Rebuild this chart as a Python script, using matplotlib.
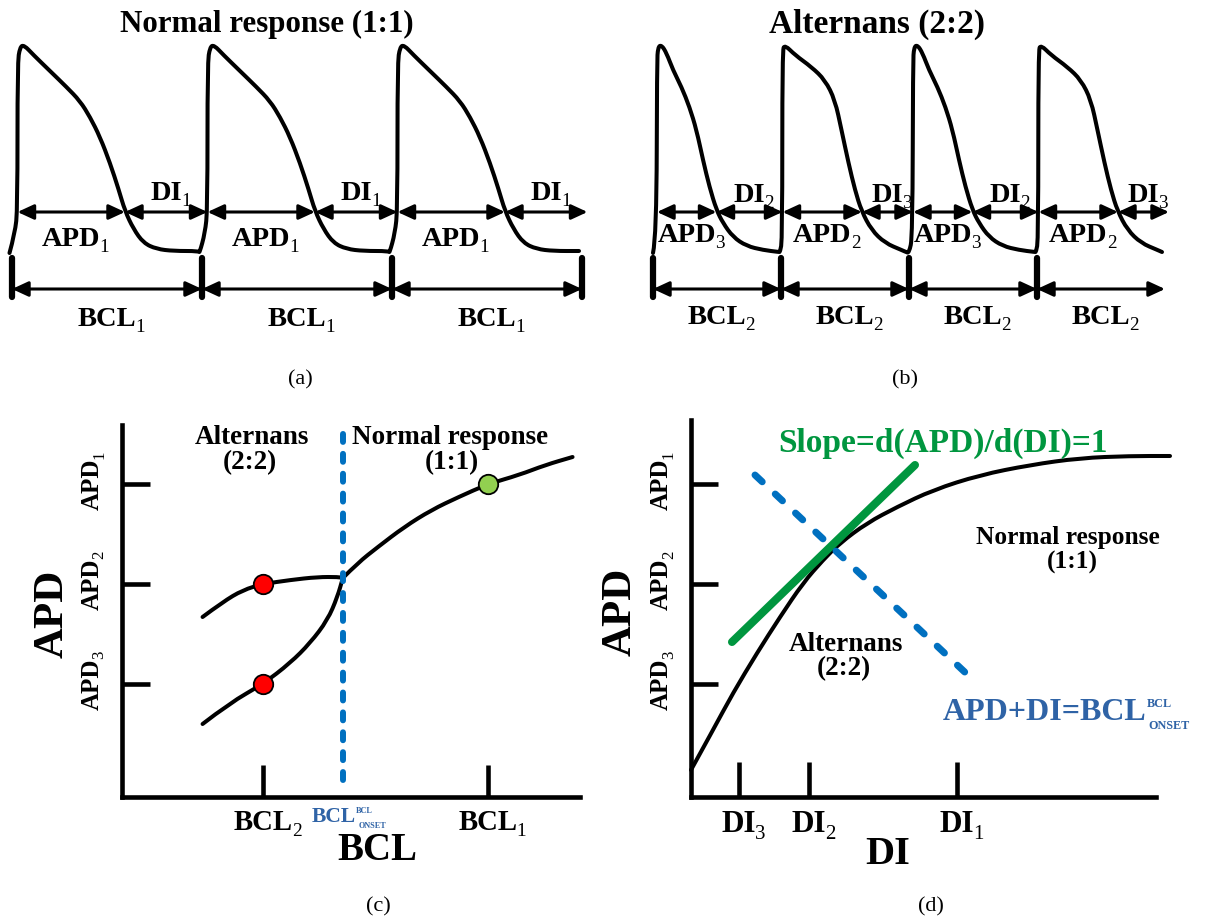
import matplotlib
matplotlib.use('Agg')
import matplotlib.pyplot as plt
import matplotlib.transforms as mtransforms
from matplotlib.path import Path
from matplotlib.patches import PathPatch

W, H = 1207, 922
plt.rcParams['font.family'] = 'Liberation Serif'

# ---------------- data ----------------
# (a) one normal action potential: time after stimulus (ms), membrane potential (mV)
ap_normal_t = [-5, 6, 11, 11, 16, 24, 43, 76, 109, 136, 156, 176, 196, 213, 226, 243, 263, 289, 323, 374]
ap_normal_v = [-84, -74, -62, 11, 19, 20, 15, 7, -1, -8, -16, -26, -39, -52, -63, -72, -79, -82, -83, -83]
stim_a = [0, 380, 760, 1140]
upstroke_a = [11, 391, 771, 1151]
apd_a = [215, 215, 215]
apd_sub_a = ['1', '1', '1']
di_sub_a = ['1', '1', '1']
bcl_sub_a = ['1', '1', '1']

# (b) alternans: short (APD3) and long (APD2) action potentials
ap_short_t = [0, 7, 8, 10, 17, 27, 40, 57, 73, 87, 100, 113, 127, 140, 160, 187, 220, 252]
ap_short_v = [-84, -76, 11, 19, 20, 16, 7.5, -1, -11, -22.5, -37.5, -51, -62.5, -69, -76, -80.5, -82.5, -83.5]
ap_long_t = [-2, 2.6, 2.6, 8, 28, 61, 88, 108, 121, 135, 148, 161, 181, 208, 241, 250]
ap_long_v = [-83.5, -77.5, 17.5, 20, 15, 9, 2.5, -7.5, -22.5, -39, -52.5, -63, -72.5, -79, -82.5, -83.5]
stim_b = [0, 256, 512, 768, 1024]
beat_kind_b = ['short', 'long', 'short', 'long']
upstroke_b = [8, 259, 520, 771, 1032]
apd_b = [119, 159, 119, 159]
apd_sub_b = ['3', '2', '3', '2']
di_sub_b = ['2', '3', '2', '3']
bcl_sub_b = ['2', '2', '2', '2']

# (c) APD vs BCL bifurcation
upper_bcl = [222.7, 233.8, 244.9, 256, 271, 286, 297.7, 300]
upper_apd = [153.5, 161, 167, 170, 172, 173.5, 173.5, 173]
lower_bcl = [222.7, 237.7, 256, 271, 282, 291.6, 297, 300]
lower_apd = [100, 110.5, 120, 130.5, 140.5, 152, 163.5, 173]
normal_bcl = [300, 308.2, 319.3, 333.8, 348.8, 363.8, 380, 397.1, 411.6, 426.6]
normal_apd = [173, 180.5, 188.5, 198.5, 207, 213.5, 220, 224.5, 229.5, 233.5]
bcl_ticks = [256, 380]
bcl_tick_sub = ['2', '1']
bcl_onset = 300
apd_ticks = [220, 170, 120]
apd_tick_sub = ['1', '2', '3']
alt_dots_bcl = [256, 256]
alt_dots_apd = [170, 120]
normal_dot_bcl = [380]
normal_dot_apd = [220]

# (d) restitution curve APD vs DI
rest_di = [0, 11, 21, 33, 44.5, 56, 66, 74.5, 88, 103, 121, 144.5, 169.5, 194.5, 219.5, 239.5]
rest_apd = [77, 97, 115.5, 135.5, 153.5, 170.5, 182, 190.5, 200.5, 208.5, 217, 224.5, 229.5, 233, 234, 234]
slope_di = [20.5, 112]
slope_apd = [141, 229.5]
onset_line_di = [32, 139.5]
onset_line_apd = [224.5, 123.5]
di_ticks = [24, 59, 133]
di_tick_sub = ['3', '2', '1']

# ---------------- layout ----------------
fig = plt.figure(figsize=(W / 100, H / 100), dpi=100)


def make_axes(left, top, width, height, xref_px, xref, xs, yref_px, yref, ys):
    ax = fig.add_axes([left / W, 1 - (top + height) / H, width / W, height / H])
    ax.set_xlim(xref + (left - xref_px) / xs, xref + (left + width - xref_px) / xs)
    ax.set_ylim(yref - (top + height - yref_px) / ys, yref - (top - yref_px) / ys)
    ax.axis('off')
    return ax


ax_a = make_axes(0, 0, 600, 360, 12, 0, 0.5, 253, -84, 2)
ax_b = make_axes(600, 0, 607, 360, 653, 0, 0.5, 253, -84, 2)
ax_c = make_axes(0, 400, 600, 522, 263, 256, 1.8145, 924, 0, 2)
ax_d = make_axes(600, 400, 607, 522, 691, 0, 2, 924, 0, 2)

ov = fig.add_axes([0, 0, 1, 1])
ov.set_xlim(0, W)
ov.set_ylim(H, 0)
ov.axis('off')

BLUE_LINE = '#0070c0'
BLUE_TEXT = '#2f63a6'
GREEN = '#00963f'
LAB = 20.5  # label size in (a) and (b)


def smooth_line(ax, xs, ys, lw=2.9, color='k'):
    # quadratic curve through the midpoints, the read points act as control points
    pts = list(zip(xs, ys))
    verts, codes = [pts[0]], [Path.MOVETO]
    for i in range(1, len(pts) - 1):
        mid = ((pts[i][0] + pts[i + 1][0]) / 2, (pts[i][1] + pts[i + 1][1]) / 2)
        verts += [pts[i], mid]
        codes += [Path.CURVE3, Path.CURVE3]
    verts.append(pts[-1])
    codes.append(Path.LINETO)
    ax.add_patch(PathPatch(Path(verts, codes), fill=False, lw=lw, edgecolor=color,
                           capstyle='round', joinstyle='round'))


def label(x, y, main, sub=None, size=19, tr=None, color='k', rot=0, sub_scale=0.67, ha='center'):
    tr = tr if tr is not None else ov.transData
    t = ov.text(x, y, main, transform=tr, fontsize=size, fontweight='bold', color=color,
                rotation=rot, ha=ha, va='center')
    if sub:
        ss = size * sub_scale
        if rot == 0:
            ov.annotate(sub, xy=(1, 0), xycoords=t, xytext=(-0.6, 0), textcoords='offset points',
                        ha='left', va='baseline', fontsize=ss, color=color)
        else:
            ov.annotate(sub, xy=(1, 1), xycoords=t, xytext=(0, -0.6), textcoords='offset points',
                        rotation=90, rotation_mode='anchor', ha='left', va='baseline',
                        fontsize=ss, color=color)
    return t


def onset_label(x, y, main, size, color, ha='center'):
    t = ov.text(x, y, main, fontsize=size, fontweight='bold', color=color, ha=ha, va='center')
    small = size * 0.38
    ov.annotate('BCL', xy=(1, 1), xycoords=t, xytext=(0, 0), textcoords='offset points',
                ha='left', va='top', fontsize=small, fontweight='bold', color=color)
    ov.annotate('ONSET', xy=(1, 0), xycoords=t, xytext=(1.5, 0.217 * size), textcoords='offset points',
                ha='left', va='top', fontsize=small, fontweight='bold', color=color)


def arrow(ax, x0, x1, y):
    ax.annotate('', xy=(x1, y), xytext=(x0, y),
                arrowprops=dict(arrowstyle='<|-|>,head_length=0.65,head_width=0.3',
                                mutation_scale=15, lw=2.2, color='k', shrinkA=0, shrinkB=0))


templates = {'normal': (ap_normal_t, ap_normal_v), 'short': (ap_short_t, ap_short_v),
             'long': (ap_long_t, ap_long_v)}


def ap_panel(ax, stims, kinds, ups, apds, apd_subs, di_subs, bcl_subs, y_apd, y_di, y_bcl,
             end_bar=True):
    tt, vv = [], []
    for s, k in zip(stims, kinds):
        t, v = templates[k]
        tt += [s + x for x in t]
        vv += v
    smooth_line(ax, tt, vv)
    bars = stims + [stims[-1] + (stims[1] - stims[0])]
    for s in (bars if end_bar else bars[:-1]):
        ax.plot([s, s], [-86.5, -106], color='k', lw=4.5, solid_capstyle='round')
    for i in range(len(bars) - 1):
        arrow(ax, bars[i], bars[i + 1], -102)
        label((bars[i] + bars[i + 1]) / 2, y_bcl, 'BCL', bcl_subs[i], size=LAB, tr=ax.transData)
    for i, apd in enumerate(apds):
        cross = ups[i] + apd
        arrow(ax, ups[i], cross, -63.5)
        arrow(ax, cross, ups[i + 1], -63.5)
        label((ups[i] + cross) / 2, y_apd, 'APD', apd_subs[i], size=LAB, tr=ax.transData)
        label((cross + ups[i + 1]) / 2, y_di, 'DI', di_subs[i], size=LAB, tr=ax.transData)


# ---------------- (a) ----------------
ap_panel(ax_a, stim_a[:3], ['normal'] * 3, upstroke_a, apd_a, apd_sub_a, di_sub_a, bcl_sub_a,
         -77.5, -54, -117.5, end_bar=True)
label(267, 24, 'Normal response (1:1)', size=22.3)

# ---------------- (b) ----------------
ap_panel(ax_b, stim_b[:4], beat_kind_b, upstroke_b, apd_b, apd_sub_b, di_sub_b, bcl_sub_b,
         -75, -55, -116.5, end_bar=False)
label(877, 24, 'Alternans (2:2)', size=24)

# ---------------- (c) ----------------
ax_c.plot([178.3, 178.3], [63.5, 249.5], color='k', lw=3.3, solid_capstyle='projecting')
ax_c.plot([178.3, 430.7], [63.5, 63.5], color='k', lw=3.3, solid_capstyle='projecting')
for a in apd_ticks:
    ax_c.plot([178.3, 193.7], [a, a], color='k', lw=3.3, solid_capstyle='butt')
for b in bcl_ticks:
    ax_c.plot([b, b], [63.5, 79.5], color='k', lw=3.3, solid_capstyle='butt')
for xs, ys in [(upper_bcl, upper_apd), (lower_bcl, lower_apd), (normal_bcl, normal_apd)]:
    smooth_line(ax_c, xs, ys)
ax_c.plot([bcl_onset, bcl_onset], [72, 250.5], color=BLUE_LINE, lw=4.3,
          ls=(0, (1.33, 2.0)), dash_capstyle='round')
ax_c.plot(alt_dots_bcl, alt_dots_apd, 'o', ms=14, mfc='#ff0000', mec='k', mew=1.3)
ax_c.plot(normal_dot_bcl, normal_dot_apd, 'o', ms=14, mfc='#92d050', mec='k', mew=1.3)

tr_cx = mtransforms.blended_transform_factory(ax_c.transData, ov.transData)
tr_cy = mtransforms.blended_transform_factory(ov.transData, ax_c.transData)
for b, s in zip(bcl_ticks, bcl_tick_sub):
    label(b, 822.5, 'BCL', s, size=20.7, tr=tr_cx)
for a, s in zip(apd_ticks, apd_tick_sub):
    label(92, a, 'APD', s, size=18, tr=tr_cy, rot=90)
onset_label(334, 816.5, 'BCL', 15.5, BLUE_TEXT)
label(377, 850, 'BCL', size=28)
label(52.5, 614, 'APD', size=31, rot=90)
label(252, 437.5, 'Alternans', size=19.5)
label(250, 463, '(2:2)', size=19.5)
label(450, 437.5, 'Normal response', size=19.5)
label(452, 463, '(1:1)', size=19.5)

# ---------------- (d) ----------------
ax_d.plot([0, 0], [63.5, 252], color='k', lw=3.3, solid_capstyle='projecting')
ax_d.plot([0, 232.5], [63.5, 63.5], color='k', lw=3.3, solid_capstyle='projecting')
for a in apd_ticks:
    ax_d.plot([0, 13.5], [a, a], color='k', lw=3.3, solid_capstyle='butt')
for d in di_ticks:
    ax_d.plot([d, d], [63.5, 81], color='k', lw=3.3, solid_capstyle='butt')
smooth_line(ax_d, rest_di, rest_apd)
ax_d.plot(slope_di, slope_apd, color=GREEN, lw=5.8, solid_capstyle='round')
ax_d.plot(onset_line_di, onset_line_apd, color=BLUE_LINE, lw=5,
          ls=(0, (1.43, 2.57)), dash_capstyle='round')

tr_dx = mtransforms.blended_transform_factory(ax_d.transData, ov.transData)
tr_dy = mtransforms.blended_transform_factory(ov.transData, ax_d.transData)
for d, s in zip(di_ticks, di_tick_sub):
    label(d, 824.5, 'DI', s, size=22.5, tr=tr_dx)
for a, s in zip(apd_ticks, apd_tick_sub):
    label(661.5, a, 'APD', s, size=18, tr=tr_dy, rot=90)
label(888, 854, 'DI', size=29)
label(621, 612, 'APD', size=31, rot=90)
label(943.5, 443, 'Slope=d(APD)/d(DI)=1', size=24, color=GREEN)
onset_label(943, 712.5, 'APD+DI=BCL', 23, BLUE_TEXT, ha='left')
label(1068, 537.5, 'Normal response', size=18.3)
label(1072, 562, '(1:1)', size=18.3)
label(845.5, 644, 'Alternans', size=19.5)
label(843.5, 668.5, '(2:2)', size=19.5)

# panel letters
for x, y, s in [(300, 380, '(a)'), (905, 380, '(b)'), (378, 907, '(c)'), (931, 907, '(d)')]:
    ov.text(x, y, s, fontsize=16, ha='center', va='center')

fig.savefig('out.png', dpi=100)
